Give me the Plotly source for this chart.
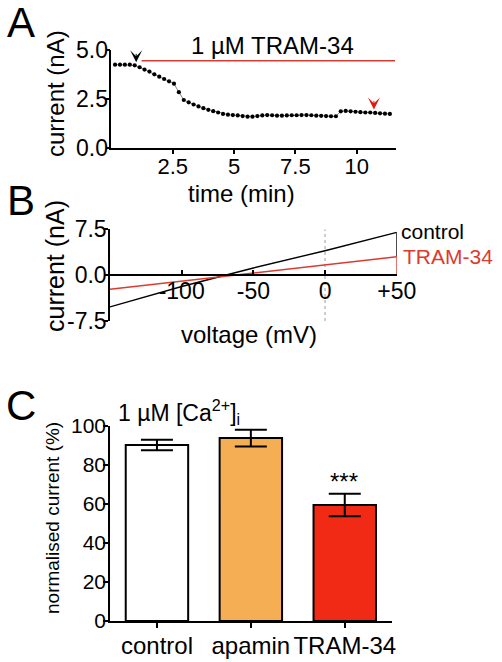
import plotly.graph_objects as go

# ---------------- data ----------------
# Panel A: time course
time_min = [0.15, 0.35, 0.55, 0.75, 0.95, 1.15, 1.35, 1.55, 1.75, 1.95,
            2.15, 2.35, 2.55, 2.75, 2.95, 3.15, 3.35, 3.55, 3.75, 3.95,
            4.15, 4.35, 4.55, 4.75, 4.95, 5.15, 5.35, 5.55, 5.75, 5.95,
            6.15, 6.35, 6.55, 6.75, 6.95, 7.15, 7.35, 7.55, 7.75, 7.95,
            8.15, 8.35, 8.55, 8.75, 8.95, 9.15, 9.35, 9.55, 9.75, 9.95,
            10.15, 10.35, 10.55, 10.75, 10.95, 11.15, 11.35]
current_nA = [4.25, 4.25, 4.25, 4.25, 4.22, 4.12, 4.00, 3.90, 3.76, 3.64,
              3.52, 3.40, 3.28, 2.85, 2.45, 2.33, 2.22, 2.12, 2.03, 1.95,
              1.88, 1.81, 1.74, 1.70, 1.68, 1.66, 1.63, 1.60, 1.60, 1.63,
              1.66, 1.68, 1.67, 1.65, 1.65, 1.66, 1.67, 1.67, 1.68, 1.68,
              1.67, 1.65, 1.64, 1.63, 1.62, 1.62, 1.87, 1.89, 1.87, 1.85,
              1.83, 1.81, 1.81, 1.79, 1.77, 1.75, 1.74]
drug_bar_t = [1.23, 11.56]
drug_bar_y = [4.45, 4.45]
drug_label = "1 µM TRAM-34"
arrow_black = (1.01, 4.37)
arrow_red = (10.7, 1.97)
a_xticks = [2.5, 5, 7.5, 10]
a_xticktext = ["2.5", "5", "7.5", "10"]
a_yticks = [0, 2.5, 5]
a_yticktext = ["0.0", "2.5", "5.0"]

# Panel B: I-V ramps
voltage_mV = [-150, -100, -50, 0, 50]
iv_control = [-5.2, -1.85, 1.17, 4.0, 7.0]
iv_tram = [-2.3, -1.0, 0.35, 1.69, 3.0]
end_step_control = [7.0, 3.0]
end_step_tram = [3.0, 0.0]
b_xticks = [-100, -50, 0, 50]
b_xticktext = ["-100", "-50", "0", "+50"]
b_yticks = [-7.5, 0, 7.5]
b_yticktext = ["-7.5", "0.0", "7.5"]

# Panel C: bar chart
conditions = ["control", "apamin", "TRAM-34"]
norm_current = [90.3, 93.8, 59.5]
norm_err = [2.7, 4.3, 5.8]
bar_colors = ["#ffffff", "#f6ae55", "#f02a14"]

# ---------------- layout helpers ----------------
W, H = 502, 662
def X(px):
    return px / W
def Y(py):
    return 1 - py / H

FONT = "Liberation Sans, Arial, Helvetica, sans-serif"
RED = "#dc3a2e"

fig = go.Figure()

# Panel A
fig.add_trace(go.Scatter(x=drug_bar_t, y=drug_bar_y, mode="lines",
                         line=dict(color=RED, width=1.6),
                         xaxis="x", yaxis="y", hoverinfo="skip"))
fig.add_trace(go.Scatter(x=time_min, y=current_nA, mode="lines+markers",
                         line=dict(color="#333333", width=0.6),
                         marker=dict(color="black", size=4.2),
                         xaxis="x", yaxis="y", cliponaxis=False))

# Panel B
fig.add_trace(go.Scatter(x=[0, 0], y=[-7.5, 7.5], mode="lines",
                         line=dict(color="#9a9a9a", width=1, dash="dot"),
                         xaxis="x2", yaxis="y2", hoverinfo="skip"))
fig.add_trace(go.Scatter(x=voltage_mV, y=iv_control, mode="lines",
                         line=dict(color="black", width=1.4),
                         xaxis="x2", yaxis="y2"))
fig.add_trace(go.Scatter(x=[voltage_mV[-1]] * 2, y=end_step_control, mode="lines",
                         line=dict(color="black", width=1.4),
                         xaxis="x2", yaxis="y2"))
fig.add_trace(go.Scatter(x=voltage_mV, y=iv_tram, mode="lines",
                         line=dict(color=RED, width=1.4),
                         xaxis="x2", yaxis="y2"))
fig.add_trace(go.Scatter(x=[voltage_mV[-1]] * 2, y=end_step_tram, mode="lines",
                         line=dict(color=RED, width=1.4),
                         xaxis="x2", yaxis="y2"))

# Panel C
fig.add_trace(go.Bar(x=conditions, y=norm_current,
                     marker=dict(color=bar_colors, line=dict(color="black", width=2)),
                     width=0.665, cliponaxis=False,
                     error_y=dict(type="data", array=norm_err, visible=True,
                                  color="black", thickness=2, width=16),
                     xaxis="x3", yaxis="y3"))

axis_common = dict(showline=True, linecolor="black", linewidth=1.5,
                   showgrid=False, zeroline=False, ticks="outside",
                   tickcolor="black", tickwidth=1.5, automargin=False,
                   tickfont=dict(family=FONT, size=23, color="black"))

fig.update_layout(
    width=W, height=H, autosize=False,
    margin=dict(l=0, r=0, t=0, b=0, pad=0, autoexpand=False),
    paper_bgcolor="white", plot_bgcolor="white",
    showlegend=False,
    font=dict(family=FONT, color="black"),
    xaxis=dict(domain=[X(111.4), X(396)], range=[0, 11.6], anchor="y",
               tickvals=a_xticks, ticktext=a_xticktext, ticklen=4,
               ticklabelstandoff=-6,
               **{**axis_common,
                  "tickfont": dict(family=FONT, size=22, color="black")}),
    yaxis=dict(domain=[Y(148), Y(50)], range=[0, 5], anchor="x",
               tickvals=a_yticks, ticktext=a_yticktext, ticklen=4,
               ticklabelstandoff=-7, **axis_common),
    xaxis2=dict(domain=[X(110), X(396.7)], range=[-150, 50], anchor="free",
                position=Y(275),
                tickvals=b_xticks, ticktext=b_xticktext, ticklen=4,
                ticklabelstandoff=-4,
                **{**axis_common, "ticks": "inside"}),
    yaxis2=dict(domain=[Y(321), Y(229.3)], range=[-7.5, 7.5], anchor="x2",
                tickvals=b_yticks, ticktext=b_yticktext, ticklen=4,
                ticklabelstandoff=-7, **axis_common),
    xaxis3=dict(domain=[X(110), X(391.7)], range=[-0.5, 2.5], anchor="y3",
                ticklen=5, tickangle=0, ticklabelstandoff=-3,
                **{**axis_common,
                   "tickfont": dict(family=FONT, size=24, color="black")}),
    yaxis3=dict(domain=[Y(621), Y(426)], range=[0, 100], anchor="x3",
                dtick=20, ticklen=5, ticklabelstandoff=-7,
                **{**axis_common,
                   "tickfont": dict(family=FONT, size=21, color="black")}),
)

ann = []
def label(text, px, py, size, angle=0, color="black", xanchor="center", yanchor="middle"):
    ann.append(dict(text=text, x=X(px), y=Y(py), xref="paper", yref="paper",
                    showarrow=False, textangle=angle, xanchor=xanchor, yanchor=yanchor,
                    font=dict(family=FONT, size=size, color=color)))

# panel letters
label("A", 21, 23, 42)
label("B", 21, 201, 42)
label("C", 21, 405, 42)
# panel A texts
label(drug_label, 272, 45, 24)
label("current (nA)", 55, 94, 24, angle=-90)
label("time (min)", 241, 193, 24)
# panel B texts
label("current (nA)", 55, 266, 25, angle=-90)
label("voltage (mV)", 249, 334, 24)
label("control", 399, 232, 21, xanchor="left")
label("TRAM-34", 401, 257, 21, color=RED, xanchor="left")
# panel C texts
label("normalised current (%)", 52, 518, 19, angle=-90)
label("1 µM [Ca<sup>2+</sup>]<sub>i</sub>", 179, 412, 23)
label("***", 344, 481, 24)

# arrowheads in panel A
for (t, v), col in ((arrow_black, "black"), (arrow_red, "#e3170a")):
    ann.append(dict(x=t, y=v, xref="x", yref="y", ax=0, ay=-10, text="",
                    showarrow=True, arrowhead=3, arrowsize=2, arrowwidth=1,
                    arrowcolor=col))

fig.update_layout(annotations=ann)

# remove the browser's default 8px page margin so the figure fills the window
fig.write_html("out.html", config={"displayModeBar": False},
               post_script="document.body.style.margin='0';")
